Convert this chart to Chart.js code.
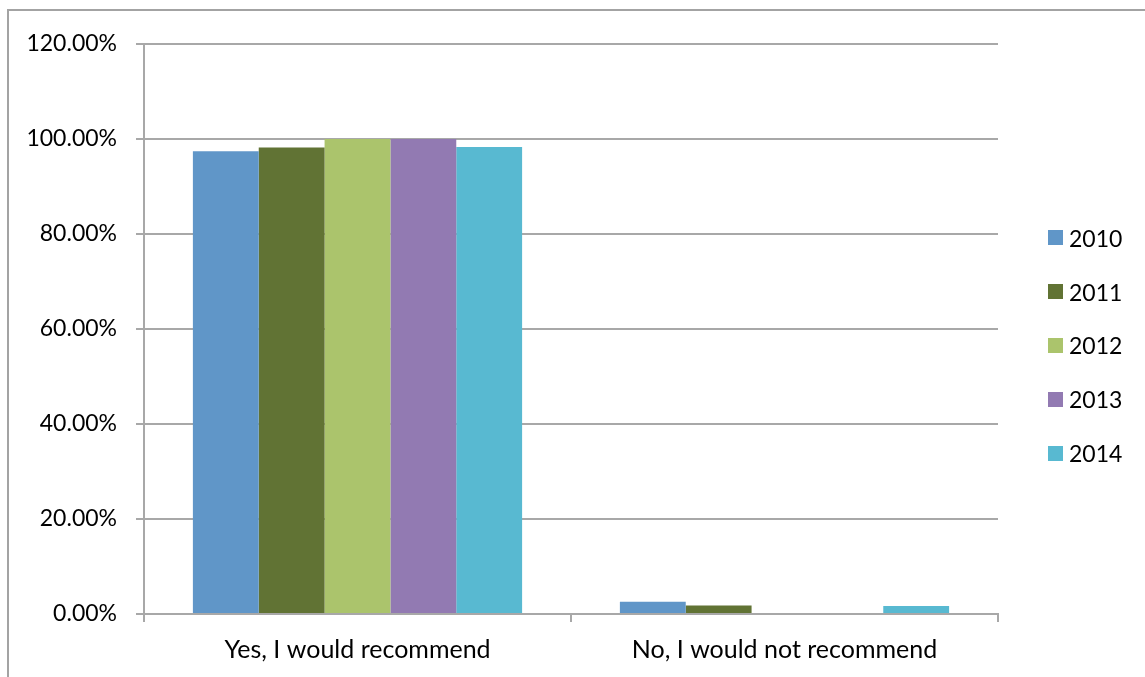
<!DOCTYPE html>
<html>
<head>
<meta charset="utf-8">
<script src="https://cdn.jsdelivr.net/npm/chart.js@4.4.1/dist/chart.umd.min.js"></script>
<style>
  body { margin: 0; background: #fff; }
  #wrap { position: relative; width: 1145px; height: 677px; overflow: hidden; }
  #frame { position: absolute; left: 7px; top: 9px; width: 1200px; height: 800px;
           border-top: 2px solid #a3a3a3; border-left: 2px solid #a3a3a3; }
  #myChart { position: absolute; left: 0; top: 0; }
  #legend { position: absolute; left: 1048px; top: 211px; font-family: Lato, sans-serif; font-size: 23px; color: #000; }
  #legend .item { height: 53.8px; display: flex; align-items: center; }
  #legend .box { width: 15px; height: 15px; margin-right: 6px; }
</style>
</head>
<body>
<div id="wrap">
  <div id="frame"></div>
  <canvas id="myChart" width="1145" height="677"></canvas>
  <div id="legend"></div>
</div>
<script>
var categorias = ['Yes, I would recommend', 'No, I would not recommend'];
var anios = ['2010', '2011', '2012', '2013', '2014'];
var colores = ['#6096c8', '#617334', '#abc46c', '#927ab2', '#58b9d1'];
var v2010 = [97.4, 2.6];
var v2011 = [98.2, 1.8];
var v2012 = [100, 0];
var v2013 = [100, 0];
var v2014 = [98.3, 1.7];
var yTicks = [0, 20, 40, 60, 80, 100, 120];

var series = [v2010, v2011, v2012, v2013, v2014];
var gris = '#a8a8a8';
var fuente = { family: 'Lato, sans-serif', size: 23 };
var fuenteX = { family: 'Lato, sans-serif', size: 25 };

var ctx = document.getElementById('myChart');
var myChart = new Chart(ctx, {
    type: 'bar',
    data: {
        labels: categorias,
        datasets: series.map(function (s, i) {
            return {
                label: anios[i],
                data: s,
                backgroundColor: colores[i],
                borderWidth: 0,
                barPercentage: 1,
                categoryPercentage: 0.771
            };
        })
    },
    options: {
        responsive: false,
        animation: false,
        layout: { padding: { left: 0, right: 147, top: 44, bottom: 0 } },
        plugins: {
            legend: { display: false },
            tooltip: { enabled: false }
        },
        scales: {
            x: {
                grid: { display: true, drawOnChartArea: false, drawTicks: true, tickLength: 8, color: gris, lineWidth: 2 },
                border: { display: true, color: gris, width: 2 },
                ticks: { color: '#000', font: fuenteX, padding: 13, maxRotation: 0 },
                afterFit: function (s) { s.height = 63; }
            },
            y: {
                min: 0,
                max: 120,
                afterBuildTicks: function (s) { s.ticks = yTicks.map(function (v) { return { value: v }; }); },
                grid: { color: gris, lineWidth: 2, drawTicks: true, tickLength: 8 },
                border: { display: true, color: gris, width: 2 },
                ticks: {
                    color: '#000', font: fuente, padding: 19,
                    callback: function (v) { return Number(v).toFixed(2) + '%'; }
                },
                afterFit: function (s) { s.width = 144; }
            }
        }
    }
});

// leyenda
var leg = document.getElementById('legend');
myChart.data.datasets.forEach(function (d) {
    var it = document.createElement('div');
    it.className = 'item';
    it.innerHTML = '<span class="box" style="background:' + d.backgroundColor + '"></span><span>' + d.label + '</span>';
    leg.appendChild(it);
});
</script>
</body>
</html>
